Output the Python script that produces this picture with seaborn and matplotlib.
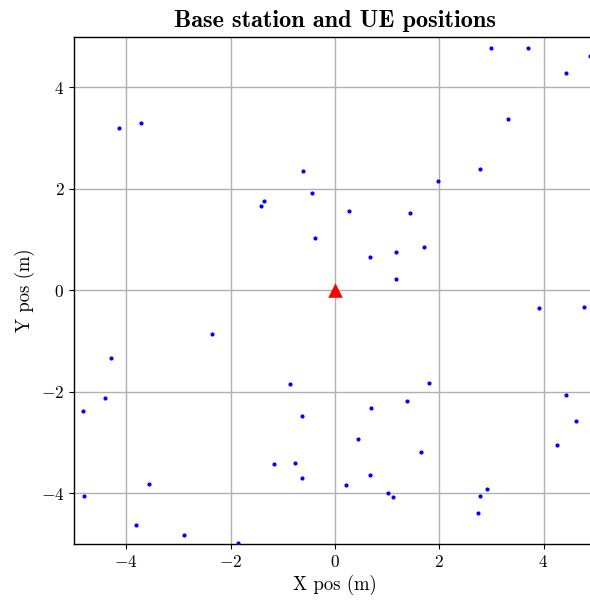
import matplotlib
matplotlib.use("Agg")
import matplotlib.pyplot as plt
import seaborn as sns
import pandas as pd

# UE positions (m)
ue_x = [-4.13, -3.72, -0.62, -0.44, -1.36, -1.41, -0.39,
        2.99, 3.70, 4.89, 4.43, 3.32, 2.79, 1.97, 0.28, 1.45, 1.70, 1.17, 0.68, 1.17,
        -2.36, -4.29, -0.86, -4.40, -4.82, -0.63, -1.17, -0.77, -0.63, -3.57, -4.81, -3.82, -2.90, -1.85,
        3.91, 4.78, 1.81, 1.39, 0.70, 4.44, 4.63, 4.25, 0.44, 1.66, 0.67, 0.21, 1.02, 1.12, 2.91, 2.78, 2.74]
ue_y = [3.21, 3.29, 2.35, 1.92, 1.77, 1.67, 1.04,
        4.77, 4.77, 4.62, 4.29, 3.38, 2.39, 2.15, 1.56, 1.52, 0.86, 0.75, 0.65, 0.22,
        -0.87, -1.33, -1.84, -2.12, -2.37, -2.48, -3.43, -3.41, -3.70, -3.82, -4.05, -4.63, -4.82, -4.98,
        -0.35, -0.32, -1.83, -2.19, -2.31, -2.06, -2.58, -3.05, -2.93, -3.19, -3.64, -3.83, -4.00, -4.08, -3.92, -4.06, -4.38]
# Base station position (m)
bs_x = [0.0]
bs_y = [0.0]

title = "Base station and UE positions"
xlabel = "X pos (m)"
ylabel = "Y pos (m)"

plt.rcParams["font.family"] = "cmr10"
plt.rcParams["mathtext.fontset"] = "cm"
plt.rcParams["axes.formatter.use_mathtext"] = True
plt.rcParams["font.size"] = 12

ue_df = pd.DataFrame({"x": ue_x, "y": ue_y})
bs_df = pd.DataFrame({"x": bs_x, "y": bs_y})

fig = plt.figure(figsize=(5.90, 6.03), dpi=100)
ax = fig.add_axes([74 / 590, 59 / 603, (595.7 - 74) / 590, (544 - 36.7) / 603])

sns.scatterplot(data=ue_df, x="x", y="y", ax=ax, color="blue", s=9, linewidth=0, zorder=3)
sns.scatterplot(data=bs_df, x="x", y="y", ax=ax, color="red", marker="^", s=110, linewidth=0, zorder=3)

ax.set_xlim(-5, 5)
ax.set_ylim(-5, 5)
ax.set_xticks([-4, -2, 0, 2, 4])
ax.set_yticks([-4, -2, 0, 2, 4])
ax.tick_params(labelsize=12.5)
ax.grid(True, color="#b0b0b0", linewidth=1.0)
ax.set_axisbelow(True)
ax.set_title(title, fontfamily="cmb10", fontsize=17.5, pad=7)
ax.set_xlabel(xlabel, fontsize=13.5)
ax.set_ylabel(ylabel, fontsize=13.5)
for s in ax.spines.values():
    s.set_linewidth(1.0)

fig.savefig("out.png", dpi=100)
